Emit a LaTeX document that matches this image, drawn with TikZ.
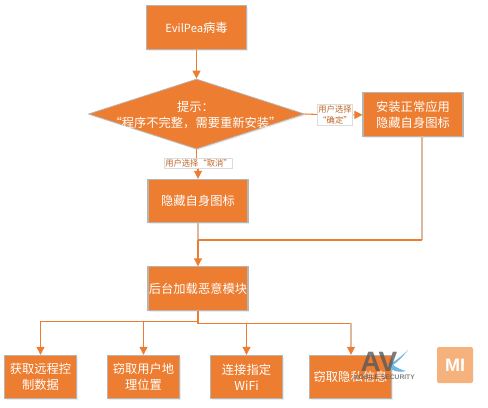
\documentclass[tikz,border=0pt]{standalone}
\usepackage{fontspec}
\setmainfont{Noto Sans CJK SC}
\newfontfamily\logofont{Liberation Sans}
\usetikzlibrary{arrows.meta, positioning, shapes.geometric, shadows}
\definecolor{evilorange}{HTML}{ED7D31}
\definecolor{softtan}{HTML}{DDB89C}
\definecolor{edgegrey}{HTML}{B8B4B0}
\definecolor{labelgrey}{HTML}{DCDCDC}
\definecolor{logoorange}{HTML}{F6B27C}
\definecolor{swooshblue}{HTML}{6FB6E4}

\begin{document}
\begin{tikzpicture}[
  x=0.75pt,
  y=-0.75pt,
  line cap=butt,
  line join=miter,
  stepbox/.style={
    draw=edgegrey,
    line width=0.8pt,
    fill=evilorange,
    text=white,
    align=center,
    font=\fontsize{9.2}{12}\selectfont,
    inner sep=0pt,
    drop shadow={shadow xshift=1pt,shadow yshift=-1pt,opacity=0.15}
  },
  bigbox/.style={
    stepbox,
    minimum width=75pt,
    minimum height=32.5pt
  },
  smallbox/.style={
    stepbox,
    minimum width=54.5pt,
    minimum height=32.5pt
  },
  tipbox/.style={
    diamond,
    aspect=3.09,
    draw=edgegrey,
    line width=0.6pt,
    fill=evilorange,
    minimum width=162pt,
    minimum height=52.5pt,
    inner sep=0pt,
    drop shadow={shadow xshift=1pt,shadow yshift=-1pt,opacity=0.15}
  },
  choice/.style={
    draw=labelgrey,
    line width=0.6pt,
    fill=white,
    text=evilorange!80!black,
    align=center,
    font=\fontsize{6.2}{8}\selectfont,
    inner sep=0.8pt
  },
  flow/.style={
    line width=0.8pt,
    draw=evilorange
  },
  softflow/.style={
    line width=0.9pt,
    draw=softtan
  },
  arrow/.style={
    flow,
    -{Triangle[length=6pt,width=6pt]}
  },
  softarrow/.style={
    softflow,
    -{Triangle[length=6pt,width=6pt,color=evilorange]}
  }
]
\useasboundingbox (0,0) rectangle (488,407);

% =========================================================
% Upper level: start and prompt
% =========================================================

\node[bigbox] (virus) at (196.5,27.5) {{\fontsize{8.4}{12}\selectfont EvilPea}病毒};

\node[tipbox] (tip) at (196.5,114) {};
\node[text=white, align=center, inner sep=0pt,
      font=\fontsize{9.2}{12}\selectfont] (tiptext) at (195.5,115)
{提示：\\“程序不完整，需要重新安装”};

\node[bigbox] (install) at (413,114.5) {安装正常应用\\隐藏自身图标};

\node[choice] (confirm) at (335,115) {用户选择\\“确定”};
\node[choice] (cancel) at (198.5,163.5) {用户选择“取消”};

\draw[arrow] (virus) -- (tip);
\draw[flow] (tip.east) -- (confirm);
\draw[arrow] (confirm) -- (install);
\draw[flow] (tip.south) -- (tip.south |- cancel.north);

% =========================================================
% Middle level: hide and load
% =========================================================

\node[bigbox] (hide) at (198,201) {隐藏自身图标};
\node[bigbox] (load) at (198,288.5) {后台加载恶意模块};

\coordinate (installfoot) at (422,136);
\coordinate (turn) at (422,240);
\coordinate (merge) at (198,240);

\draw[arrow] (cancel.south -| hide.north) -- (hide.north);
\draw[softflow] (hide) -- (merge);
\draw[softflow] (installfoot) -- (turn);
\draw[flow] (turn) -- (merge);
\draw[arrow] (merge) -- (load);

% =========================================================
% Lower level: malicious actions
% =========================================================

\node[smallbox] (remote) at (40.5,377) {获取远程控\\制数据};
\node[smallbox] (locate) at (143.5,377) {窃取用户地\\理位置};
\node[smallbox] (wifi) at (246.5,377) {连接指定\\WiFi};
\node[stepbox, minimum width=62pt, minimum height=32.5pt] (private) at (350.5,377) {窃取隐私信息};

\coordinate (busend) at (351,322.5);

\draw[arrow] (load.south) -- ++(0,10.5) -| (remote.north);
\draw[arrow] (load.south) -- ++(0,10.5) -| (locate.north);
\draw[arrow] (load.south) -- ++(0,12.5) -| (wifi.north);
\draw[flow] (load.south) -- ++(0,12.5) -| (busend);
\draw[softarrow] (busend) -- (private.north -| busend);

% =========================================================
% Watermarks
% =========================================================

\fill[swooshblue] (408,350) .. controls (402,358) and (397,362) .. (393,365)
  .. controls (397,368) and (402,370) .. (406,371)
  .. controls (398,373) and (392,371) .. (387,366)
  .. controls (394,362) and (402,356) .. (408,350) -- cycle;
\node[text=black!65, opacity=0.8, inner sep=0pt,
      font=\logofont\bfseries\fontsize{21}{21}\selectfont] (avmark) at (379,362) {AV};
\node[text=black!65, opacity=0.75, inner sep=0pt,
      font=\logofont\bfseries\fontsize{5}{6}\selectfont] (avtext) at (384,377) {MOBILE SECURITY};

\node[fill=logoorange, rounded corners=1.5pt, text=white, inner sep=0pt,
      minimum width=27pt, minimum height=27pt,
      font=\logofont\bfseries\fontsize{13.5}{14}\selectfont] (milogo) at (455,365) {MI};

\end{tikzpicture}
\end{document}
